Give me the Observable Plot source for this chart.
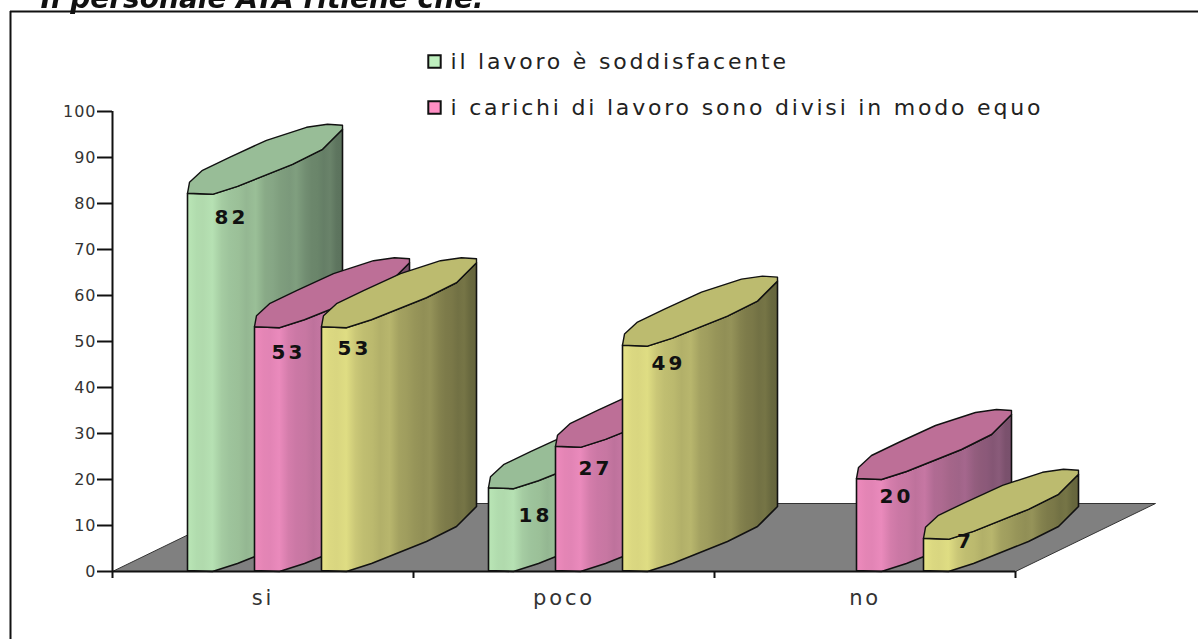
<!DOCTYPE html>
<html>
<head>
<meta charset="utf-8">
<script src="https://cdn.jsdelivr.net/npm/d3@7"></script>
<script src="https://cdn.jsdelivr.net/npm/@observablehq/plot@0.6"></script>
<style>
html,body{margin:0;padding:0;background:#fff;overflow:hidden}
svg{display:block;filter:blur(0.7px)}
.wide text{letter-spacing:2.8px}
.ylab text{letter-spacing:1px}
.xlab text{letter-spacing:2.8px}
.val text{letter-spacing:3px}
</style>
</head>
<body>
<div id="chart"></div>
<script>
const categories = ["si", "poco", "no"];
const seriesNames = ["il lavoro è soddisfacente", "i carichi di lavoro sono divisi in modo equo", "terza serie"];
const green = [82, 18, null];
const pink = [53, 27, 20];
const yellow = [53, 49, 7];
const legendNames = seriesNames.slice(0, 2);
const yTicks = [0,10,20,30,40,50,60,70,80,90,100];

// appearance
const light = ["#bae6b6", "#ee8abd", "#e6e387"];
const dark = ["#5b725c", "#78506c", "#65643c"];
const capFill = ["#98bd97", "#bd6f97", "#bcbb6f"];
const swatch = ["#bff0bf", "#ff8fc4"];

// pixel helpers: scale is 301px per category, 4.6px per value unit
const W = 1198, H = 639;
const PXX = 301, PXY = 4.6;
const dx = p => p / PXX;
const dy = p => p / PXY;
const slot = [75, 142, 209];

// cylinder outline templates (pixel offsets from bar's front-left top)
const lower = [[0,-1],[25,0],[50,-8],[105,-30],[135,-45],[155,-65]];
const upper = [[155,-69],[140,-70],[119,-67],[79,-54],[42,-37],[15,-24],[2,-12],[0,-1]];

const values = [green, pink, yellow];
const bars = [];
categories.forEach((c, g) => {
  values.forEach((vals, s) => {
    if (vals[g] != null) bars.push({g, s, v: vals[g]});
  });
});

const shape = (b, pts, base) => pts.map(([a, c]) => ({
  x: b.g + dx(slot[b.s]) + dx(a),
  y: base + dy(-c)
}));

const bodyPts = b => {
  const top = shape(b, lower, b.v);
  const bot = shape(b, lower, 0).reverse();
  return [...top, ...bot, top[0]];
};
const capPts = b => {
  const l = shape(b, lower, b.v);
  const u = shape(b, upper, b.v);
  return [...l, ...u];
};

const floor = [
  {x: 0, y: 0},
  {x: 3, y: 0},
  {x: 3 + dx(140), y: dy(68)},
  {x: dx(140), y: dy(68)},
  {x: 0, y: 0}
];

// value label nudges in pixels
const nudges = {
  "0-0": [44, 23], "0-1": [34, 25], "0-2": [33, 21],
  "1-0": [47, 27], "1-1": [40, 21], "1-2": [46, 17],
  "2-1": [40, 17], "2-2": [42, 2]
};
const labels = bars.map(b => {
  const n = nudges[b.g + "-" + b.s];
  return {x: b.g + dx(slot[b.s] + n[0]), y: b.v - dy(n[1]), t: String(b.v)};
});

const stripes = [0, .06, .1, .16, .22, .27, .33, .38, .44, .5, .55, .6, .66, .7, .76, .8, .84, .88, .92, .96, 1];
const defs = () => {
  const d = d3.create("svg:defs");
  light.forEach((c, i) => {
    const mix = d3.interpolateRgb(c, dark[i]);
    const g = d.append("linearGradient").attr("id", "cyl" + i);
    stripes.forEach((o, k) => {
      const col = d3.color(mix(o));
      g.append("stop").attr("offset", o).attr("stop-color",
        (k % 5 === 3 ? col.brighter(0.18) : k % 2 ? col.darker(0.04) : col).formatHex());
    });
  });
  return d.node();
};

const marks = [
  defs,
  // page frame (left and top only)
  Plot.ruleX([dx(10 - 112)], {y1: dy(571 - 11), y2: -dy(68), stroke: "#111", strokeWidth: 2}),
  Plot.ruleY([dy(571 - 11)], {x1: dx(10 - 112), x2: dx(1198 - 112), stroke: "#111", strokeWidth: 2}),
  Plot.line(floor, {x: "x", y: "y", fill: "#808080", stroke: "#333", strokeWidth: 1}),
  ...bars.flatMap(b => [
    Plot.line(bodyPts(b), {x: "x", y: "y", fill: `url(#cyl${b.s})`, stroke: "#111", strokeWidth: 1.6}),
    Plot.line(capPts(b), {x: "x", y: "y", fill: capFill[b.s], stroke: "#111", strokeWidth: 1.4})
  ]),
  Plot.ruleY([0], {x1: 0, x2: 3, stroke: "#111", strokeWidth: 2}),
  Plot.axisY({ticks: yTicks, tickSize: 15, tickPadding: 1, fontSize: 16, stroke: "#111", strokeWidth: 2, color: "#333", label: null, className: "ylab"}),
  Plot.ruleX([0], {y1: 0, y2: 100, stroke: "#111", strokeWidth: 2}),
  Plot.axisX({anchor: "bottom", ticks: [0,1,2,3], tickSize: 7, tickFormat: () => "", stroke: "#111", strokeWidth: 2, label: null}),
  Plot.axisX({anchor: "bottom", ticks: [0.5,1.5,2.5], tickSize: 0, tickPadding: 19, tickFormat: (d, i) => categories[i], fontSize: 21, color: "#333", label: null, className: "xlab"}),
  Plot.text(labels, {x: "x", y: "y", text: "t", fontSize: 20, fontWeight: "bold", fill: "#111", className: "val"}),
  // legend
  ...legendNames.flatMap((name, i) => [
    Plot.dot([name], {frameAnchor: "top-left", dx: 434 - 112, dy: (i ? 107 : 61) - 111, symbol: "square", r: 7, fill: swatch[i], stroke: "#111", strokeWidth: 2}),
    Plot.text([name], {frameAnchor: "top-left", dx: 450 - 112, dy: (i ? 107 : 61) - 111, text: d => d, fontSize: 22, fill: "#222", textAnchor: "start", lineAnchor: "middle", className: "wide"})
  ]),
  // clipped heading
  Plot.text(["Il personale ATA ritiene che:"], {frameAnchor: "top-left", dx: 40 - 112, dy: -1 - 111, text: d => d, fontSize: 28, fontWeight: "bold", fontStyle: "italic", fill: "#111", textAnchor: "start", lineAnchor: "middle"})
];

const chart = Plot.plot({
  width: W,
  height: H,
  marginLeft: 112,
  marginRight: W - 1015,
  marginTop: 111,
  marginBottom: H - 571,
  style: {background: "#fff", fontFamily: "'DejaVu Sans', sans-serif", overflow: "visible"},
  x: {domain: [0, 3], axis: null},
  y: {domain: [0, 100], axis: null},
  marks
});
document.getElementById("chart").appendChild(chart);
</script>
</body>
</html>
